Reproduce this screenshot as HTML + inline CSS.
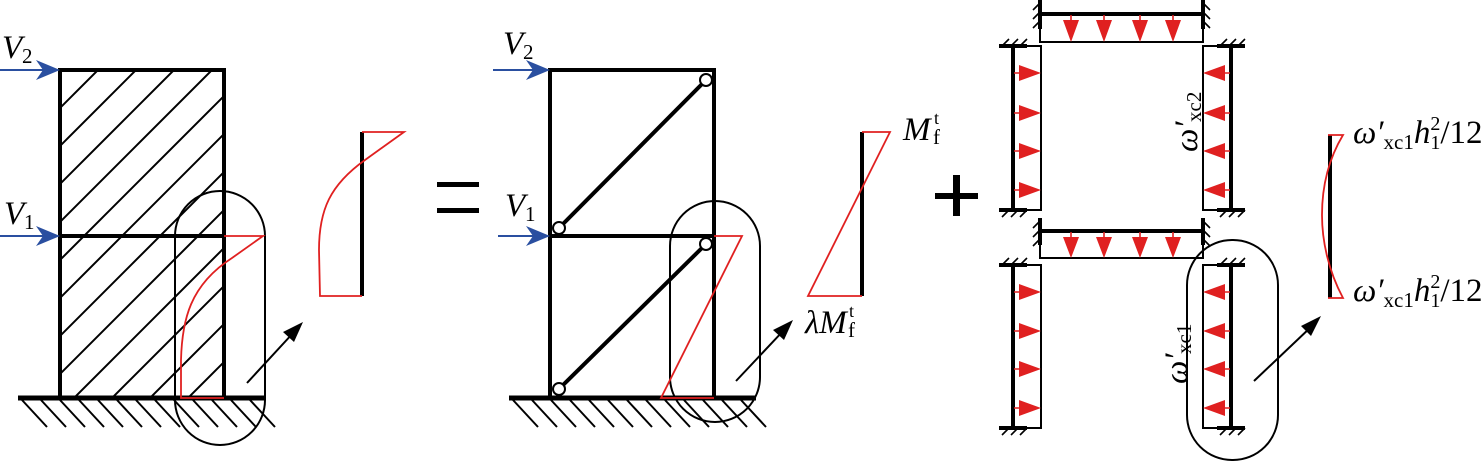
<!DOCTYPE html>
<html><head><meta charset="utf-8"><style>
html,body{margin:0;padding:0;background:#fff;}
svg{display:block;}
text{font-family:"Liberation Serif",serif;}
</style></head><body>
<svg width="1484" height="462" viewBox="0 0 1484 462" xmlns="http://www.w3.org/2000/svg">
<defs>
<clipPath id="c1"><rect x="60" y="70" width="164" height="328"/></clipPath>
</defs>
<g clip-path="url(#c1)" stroke="#000" stroke-width="2">
<line x1="-320" y1="450" x2="180" y2="-50"/><line x1="-282" y1="450" x2="218" y2="-50"/><line x1="-244" y1="450" x2="256" y2="-50"/><line x1="-206" y1="450" x2="294" y2="-50"/><line x1="-168" y1="450" x2="332" y2="-50"/><line x1="-130" y1="450" x2="370" y2="-50"/><line x1="-92" y1="450" x2="408" y2="-50"/><line x1="-54" y1="450" x2="446" y2="-50"/><line x1="-16" y1="450" x2="484" y2="-50"/><line x1="22" y1="450" x2="522" y2="-50"/><line x1="60" y1="450" x2="560" y2="-50"/><line x1="98" y1="450" x2="598" y2="-50"/><line x1="136" y1="450" x2="636" y2="-50"/>
</g>
<g stroke="#000" stroke-width="4" fill="none">
<rect x="60" y="70" width="164" height="328"/>
<line x1="60" y1="236" x2="224" y2="236"/>
<line x1="18" y1="398" x2="265" y2="398" stroke-width="5"/>
</g>
<g stroke="#000" stroke-width="2">
<line x1="22" y1="400" x2="47" y2="427"/><line x1="41" y1="400" x2="66" y2="427"/><line x1="60" y1="400" x2="85" y2="427"/><line x1="79" y1="400" x2="104" y2="427"/><line x1="98" y1="400" x2="123" y2="427"/><line x1="117" y1="400" x2="142" y2="427"/><line x1="136" y1="400" x2="161" y2="427"/><line x1="155" y1="400" x2="180" y2="427"/><line x1="174" y1="400" x2="199" y2="427"/><line x1="193" y1="400" x2="218" y2="427"/><line x1="212" y1="400" x2="237" y2="427"/><line x1="231" y1="400" x2="256" y2="427"/><line x1="250" y1="400" x2="275" y2="427"/>
</g>
<rect x="175" y="191" width="90" height="254" rx="45" ry="45" fill="none" stroke="#000" stroke-width="2"/>
<path d="M224,236 L263,236 L232,258 C190,285 182,320 181,360 L181,398 L224,398" fill="none" stroke="#e02020" stroke-width="1.8"/>
<line x1="247" y1="383" x2="294" y2="332" stroke="#000" stroke-width="2"/>
<path d="M303,322 L283,332 L294,342 Z" fill="#000"/>
<line x1="362" y1="132" x2="362" y2="296" stroke="#000" stroke-width="4"/>
<path d="M362,132 L404,132 L365,160 C330,185 319,210 319,250 L320,296 L362,296" fill="none" stroke="#e02020" stroke-width="1.8"/>
<g stroke="#2a4fa0" stroke-width="2"><line x1="0" y1="70" x2="46" y2="70"/><line x1="0" y1="236" x2="46" y2="236"/></g>
<path d="M60,70 L36,60 L43,70 L36,80 Z M60,236 L36,226 L43,236 L36,246 Z" fill="#2a4fa0"/>
<text x="2" y="58" font-size="33" font-style="italic">V</text><text x="22" y="63" font-size="21">2</text>
<text x="4" y="224" font-size="33" font-style="italic">V</text><text x="24" y="229" font-size="21">1</text>
<rect x="437" y="182" width="42" height="5" fill="#000"/><rect x="437" y="208" width="42" height="5" fill="#000"/>
<g stroke="#000" stroke-width="4" fill="none">
<rect x="550" y="70" width="164" height="328"/>
<line x1="550" y1="236" x2="714" y2="236"/>
<line x1="509" y1="398" x2="756" y2="398" stroke-width="5"/>
<line x1="559" y1="228" x2="706" y2="80"/><line x1="559" y1="389" x2="706" y2="244"/>
</g>
<g stroke="#000" stroke-width="2">
<line x1="513" y1="400" x2="538" y2="427"/><line x1="532" y1="400" x2="557" y2="427"/><line x1="551" y1="400" x2="576" y2="427"/><line x1="570" y1="400" x2="595" y2="427"/><line x1="589" y1="400" x2="614" y2="427"/><line x1="608" y1="400" x2="633" y2="427"/><line x1="627" y1="400" x2="652" y2="427"/><line x1="646" y1="400" x2="671" y2="427"/><line x1="665" y1="400" x2="690" y2="427"/><line x1="684" y1="400" x2="709" y2="427"/><line x1="703" y1="400" x2="728" y2="427"/><line x1="722" y1="400" x2="747" y2="427"/><line x1="741" y1="400" x2="766" y2="427"/>
</g>
<g fill="#fff" stroke="#000" stroke-width="2">
<circle cx="706" cy="80" r="6"/><circle cx="559" cy="228" r="6"/><circle cx="706" cy="244" r="6"/><circle cx="559" cy="389" r="6"/>
</g>
<rect x="670" y="201" width="90" height="221" rx="45" ry="45" fill="none" stroke="#000" stroke-width="2"/>
<path d="M714,236 L742,236 L661,398 L714,398" fill="none" stroke="#e02020" stroke-width="1.8"/>
<line x1="736" y1="381" x2="784" y2="330" stroke="#000" stroke-width="2"/>
<path d="M793,320 L773,330 L784,340 Z" fill="#000"/>
<line x1="862" y1="132" x2="862" y2="296" stroke="#000" stroke-width="4"/>
<path d="M862,132 L890,132 L808,296 L862,296" fill="none" stroke="#e02020" stroke-width="1.8"/>
<g stroke="#2a4fa0" stroke-width="2"><line x1="493" y1="70" x2="536" y2="70"/><line x1="498" y1="236" x2="536" y2="236"/></g>
<path d="M550,70 L526,60 L533,70 L526,80 Z M550,236 L526,226 L533,236 L526,246 Z" fill="#2a4fa0"/>
<text x="503" y="54" font-size="33" font-style="italic">V</text><text x="523" y="59" font-size="21">2</text>
<text x="505" y="216" font-size="33" font-style="italic">V</text><text x="525" y="221" font-size="21">1</text>
<text x="903" y="140" font-size="33" font-style="italic">M</text><text x="933" y="144" font-size="21">f</text><text x="934" y="124" font-size="18">t</text>
<text x="805" y="333" font-size="33" font-style="italic">λM</text><text x="848" y="337" font-size="21">f</text><text x="849" y="317" font-size="18">t</text>
<rect x="935" y="193" width="43" height="6" fill="#000"/><rect x="953" y="175" width="7" height="41" fill="#000"/>
<g fill="none" stroke="#000" stroke-width="2">
<rect x="1040" y="14" width="163" height="28"/>
<rect x="1013" y="46" width="28" height="164"/>
<rect x="1203" y="46" width="28" height="164"/>
<rect x="1040" y="231" width="163" height="27"/>
<rect x="1013" y="265" width="28" height="163"/>
<rect x="1203" y="265" width="28" height="163"/>
</g>
<g stroke="#000" stroke-width="4">
<line x1="1040" y1="14" x2="1203" y2="14"/><line x1="1040" y1="0" x2="1040" y2="29"/><line x1="1203" y1="0" x2="1203" y2="29"/>
<line x1="1013" y1="46" x2="1013" y2="210"/><line x1="999" y1="46" x2="1027" y2="46"/><line x1="999" y1="210" x2="1027" y2="210"/>
<line x1="1231" y1="46" x2="1231" y2="210"/><line x1="1217" y1="46" x2="1245" y2="46"/><line x1="1217" y1="210" x2="1245" y2="210"/>
<line x1="1040" y1="231" x2="1203" y2="231"/><line x1="1040" y1="218" x2="1040" y2="245"/><line x1="1203" y1="218" x2="1203" y2="245"/>
<line x1="1013" y1="265" x2="1013" y2="428"/><line x1="999" y1="265" x2="1027" y2="265"/><line x1="999" y1="428" x2="1027" y2="428"/>
<line x1="1231" y1="265" x2="1231" y2="428"/><line x1="1217" y1="265" x2="1245" y2="265"/><line x1="1217" y1="428" x2="1245" y2="428"/>
</g>
<g stroke="#000" stroke-width="1.6">
<path d="M1040,3 l-7,7 M1040,12 l-7,7 M1040,21 l-7,7 M1203,3 l7,7 M1203,12 l7,7 M1203,21 l7,7"/>
<path d="M1040,221 l-7,7 M1040,230 l-7,7 M1040,239 l-7,7 M1203,221 l7,7 M1203,230 l7,7 M1203,239 l7,7"/>
<path d="M1002,46 l7,-7 M1011,46 l7,-7 M1020,46 l7,-7 M1002,217 l7,-7 M1011,217 l7,-7 M1020,217 l7,-7"/>
<path d="M1220,46 l7,-7 M1229,46 l7,-7 M1238,46 l7,-7 M1220,217 l7,-7 M1229,217 l7,-7 M1238,217 l7,-7"/>
<path d="M1002,265 l7,-7 M1011,265 l7,-7 M1020,265 l7,-7 M1002,435 l7,-7 M1011,435 l7,-7 M1020,435 l7,-7"/>
<path d="M1220,265 l7,-7 M1229,265 l7,-7 M1238,265 l7,-7 M1220,435 l7,-7 M1229,435 l7,-7 M1238,435 l7,-7"/>
</g>
<g stroke="#e02020" stroke-width="1.6">
<path d="M1071,15 V30 M1104,15 V30 M1140,15 V30 M1173,15 V30 M1071,232 V246 M1104,232 V246 M1140,232 V246 M1173,232 V246"/>
<path d="M1014,73 H1028 M1014,113 H1028 M1014,151 H1028 M1014,190 H1028 M1014,292 H1028 M1014,331 H1028 M1014,369 H1028 M1014,408 H1028"/>
<path d="M1230,73 H1216 M1230,113 H1216 M1230,151 H1216 M1230,190 H1216 M1230,292 H1216 M1230,331 H1216 M1230,369 H1216 M1230,408 H1216"/>
</g>
<g fill="#e02020">
<path d="M1063,20 L1079,20 L1071,42 Z M1096,20 L1112,20 L1104,42 Z M1132,20 L1148,20 L1140,42 Z M1165,20 L1181,20 L1173,42 Z"/>
<path d="M1063,237 L1079,237 L1071,258 Z M1096,237 L1112,237 L1104,258 Z M1132,237 L1148,237 L1140,258 Z M1165,237 L1181,237 L1173,258 Z"/>
<path d="M1019,65 L1041,73 L1019,81 Z M1019,105 L1041,113 L1019,121 Z M1019,143 L1041,151 L1019,159 Z M1019,182 L1041,190 L1019,198 Z"/>
<path d="M1019,284 L1041,292 L1019,300 Z M1019,323 L1041,331 L1019,339 Z M1019,361 L1041,369 L1019,377 Z M1019,400 L1041,408 L1019,416 Z"/>
<path d="M1225,65 L1203,73 L1225,81 Z M1225,105 L1203,113 L1225,121 Z M1225,143 L1203,151 L1225,159 Z M1225,182 L1203,190 L1225,198 Z"/>
<path d="M1225,284 L1203,292 L1225,300 Z M1225,323 L1203,331 L1225,339 Z M1225,361 L1203,369 L1225,377 Z M1225,400 L1203,408 L1225,416 Z"/>
</g>
<g transform="translate(1197,152) rotate(-90)"><text x="0" y="0" font-size="33" font-style="italic">ω′</text><text x="30" y="4" font-size="21">xc2</text></g>
<g transform="translate(1187,384) rotate(-90)"><text x="0" y="0" font-size="33" font-style="italic">ω′</text><text x="30" y="4" font-size="21">xc1</text></g>
<rect x="1187" y="240" width="91" height="220" rx="45" ry="45" fill="none" stroke="#000" stroke-width="2"/>
<line x1="1254" y1="381" x2="1312" y2="326" stroke="#000" stroke-width="2"/>
<path d="M1321,316 L1301,326 L1311,336 Z" fill="#000"/>
<line x1="1330" y1="135" x2="1330" y2="298" stroke="#000" stroke-width="4"/>
<path d="M1328,135 L1343,135 C1325,165 1322,195 1322,215 C1322,240 1328,270 1343,298 L1328,298" fill="none" stroke="#e02020" stroke-width="1.8"/>
<text x="1353" y="143" font-size="33"><tspan font-style="italic">ω′</tspan><tspan font-size="21" dy="6">xc1</tspan><tspan font-style="italic" dy="-6">h</tspan><tspan font-size="20" dy="-13">2</tspan><tspan font-size="20" dx="-10" dy="19">1</tspan><tspan dy="-6">/12</tspan></text>
<text x="1353" y="301" font-size="33"><tspan font-style="italic">ω′</tspan><tspan font-size="21" dy="6">xc1</tspan><tspan font-style="italic" dy="-6">h</tspan><tspan font-size="20" dy="-13">2</tspan><tspan font-size="20" dx="-10" dy="19">1</tspan><tspan dy="-6">/12</tspan></text>
</svg>
</body></html>
